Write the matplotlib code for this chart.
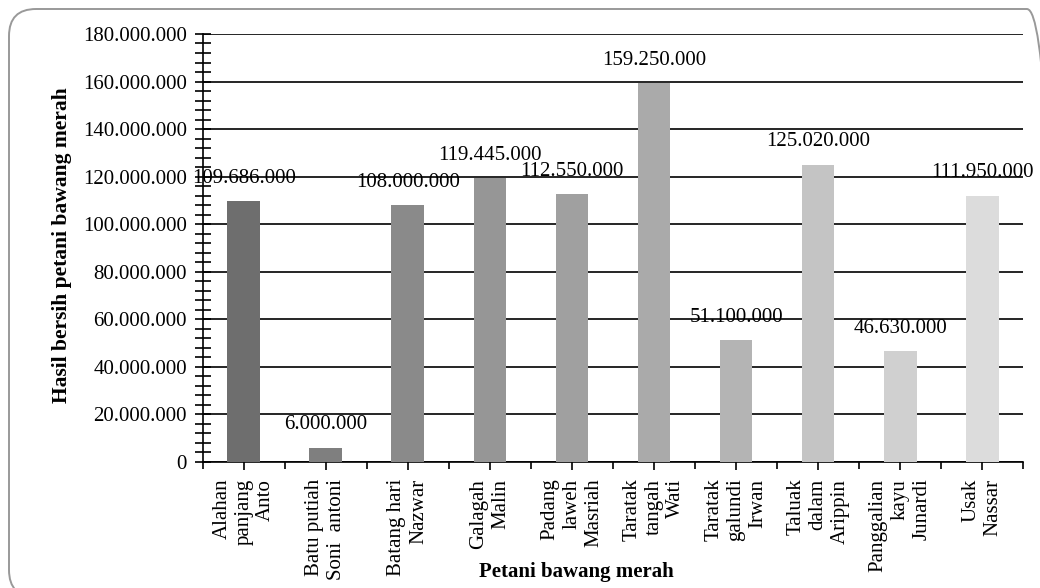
import numpy as np
import matplotlib.pyplot as plt
from matplotlib.patches import FancyBboxPatch
from matplotlib.ticker import FuncFormatter, MultipleLocator

petani = ["Alahan\npanjang\nAnto", "Batu putiah\nSoni  antoni", "Batang hari\nNazwar",
          "Galagah\nMalin", "Padang\nlaweh\nMasriah", "Taratak\ntangah\nWati",
          "Taratak\ngalundi\nIrwan", "Taluak\ndalam\nArippin", "Panggalian\nkayu\nJunardi",
          "Usak\nNassar"]
hasil = [109686000, 6000000, 108000000, 119445000, 112550000, 159250000,
         51100000, 125020000, 46630000, 111950000]
warna = ["#6e6e6e", "#7f7f7f", "#8a8a8a", "#969696", "#a0a0a0", "#aaaaaa",
         "#b4b4b4", "#c4c4c4", "#d0d0d0", "#dcdcdc"]


def titik(v, pos=None):
    return f"{v:,.0f}".replace(",", ".")


plt.rcParams['font.family'] = ['Liberation Serif', 'DejaVu Serif']

fig = plt.figure(figsize=(10.4, 5.88), dpi=100)
ax = fig.add_axes([0.195, 0.2143, 0.7888, 0.7279])

x = np.arange(len(petani))
ax.bar(x, hasil, width=0.4, color=warna, zorder=3)

for xi, v in zip(x, hasil):
    ax.annotate(titik(v), (xi, v), xytext=(0, 16.5), textcoords='offset points',
                ha='center', va='center', fontsize=15, zorder=4)

ax.set_xlim(-0.5, len(petani) - 0.5)
ax.set_ylim(0, 180000000)
ax.yaxis.set_major_locator(MultipleLocator(20000000))
ax.yaxis.set_minor_locator(MultipleLocator(4000000))
ax.yaxis.set_major_formatter(FuncFormatter(titik))
ax.grid(axis='y', which='major', color='black', linewidth=1.2, zorder=1)

ax.set_xticks(x)
ax.set_xticklabels(petani, rotation=90, ha='center', va='top', multialignment='right')
ax.set_xticks(np.arange(-0.5, len(petani)), minor=True)

ax.tick_params(axis='y', which='both', direction='inout', length=11, width=1.2,
               labelsize=15, pad=6)
ax.tick_params(axis='x', which='major', direction='inout', length=12, width=1.2,
               labelsize=15, pad=6)
ax.tick_params(axis='x', which='minor', direction='out', length=5, width=1.2)

for s in ['top', 'right']:
    ax.spines[s].set_visible(False)
ax.spines['left'].set_linewidth(1.2)
ax.spines['bottom'].set_linewidth(1.2)

fig.text(62 / 1040, 1 - 245 / 588, "Hasil bersih petani bawang merah", rotation=90,
         ha='center', va='center', fontsize=15.5, fontweight='bold')
fig.text(576 / 1040, 1 - 572 / 588, "Petani bawang merah",
         ha='center', va='center', fontsize=15, fontweight='bold')

# rounded frame, cut off at right and bottom edges like the source
kotak = FancyBboxPatch((9 / 1040, -9 / 588), 1045 / 1040, 588 / 588,
                       boxstyle="round,pad=0,rounding_size=0.026",
                       transform=fig.transFigure, fill=False,
                       edgecolor='#999999', linewidth=1.4, mutation_aspect=1040 / 588)
fig.patches.append(kotak)

fig.savefig("out.png", dpi=100)
